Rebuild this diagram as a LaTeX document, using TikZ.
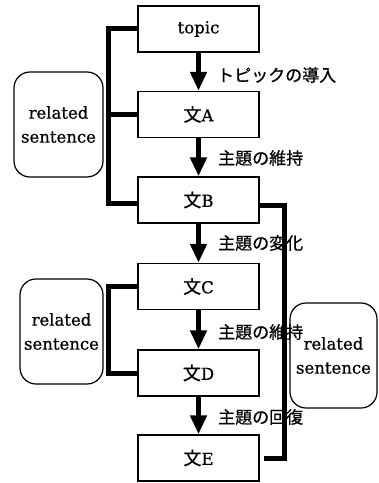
\documentclass[tikz,border=0pt]{standalone}
\usepackage{fontspec}
\setmainfont{DejaVu Serif}[FakeBold=0.7]
\newfontfamily\jp{Noto Sans CJK JP}[FakeBold=0.7]
\newcommand{\bun}{{\jp\fontsize{18bp}{18bp}\selectfont 文}}
\usetikzlibrary{arrows.meta,calc}
\tikzset{
  sbox/.style={draw, line width=1.4bp, minimum width=121bp, minimum height=46bp, inner sep=0pt,
    font=\fontsize{16.5bp}{18bp}\selectfont},
  rbox/.style={draw, line width=1.2bp, rounded corners=16bp, minimum height=105bp, inner sep=0pt,
    align=center, font=\fontsize{16.5bp}{24bp}\selectfont},
  flow/.style={line width=5bp, -{Triangle[width=16bp,length=19bp]}},
  brack/.style={line width=5bp},
  lab/.style={anchor=west, inner sep=0pt, font=\jp\fontsize{17bp}{19bp}\selectfont}
}
\begin{document}
\begin{tikzpicture}[x=1bp,y=-1bp]
\useasboundingbox (0,0) rectangle (378,483);
\node[sbox] (T) at (198.5,29) {topic};
\node[sbox] (A) at (198.5,114.5) {\bun A};
\node[sbox] (B) at (198.5,200) {\bun B};
\node[sbox] (C) at (198.5,286.5) {\bun C};
\node[sbox] (D) at (198.5,373) {\bun D};
\node[sbox] (E) at (198.5,458) {\bun E};

\node[rbox, minimum width=89bp] (R1) at (58.5,124.5) {related\\sentence};
\node[rbox, minimum width=83bp] (R2) at (61.5,331.5) {related\\sentence};
\node[rbox, minimum width=87bp] (R3) at (333.5,355.5) {related\\sentence};

\draw[flow] (T.south) -- (A.north);
\draw[flow] (A.south) -- (B.north);
\draw[flow] (B.south) -- (C.north);
\draw[flow] (C.south) -- (D.north);
\draw[flow] (D.south) -- (E.north);

\node[lab] (L1) at (217,75) {トピックの導入};
\node[lab] (L2) at (218,158) {主題の維持};
\node[lab] (L3) at (218,243) {主題の変化};
\node[lab] (L4) at (218,332) {主題の維持};
\node[lab] (L5) at (218,417) {主題の回復};

\coordinate (lx1) at (108,0);
\draw[brack] (T.west) -- (lx1 |- T.west) -- ($(lx1 |- B.west)+(0,3)$) -- ($(B.west)+(0,3)$);
\draw[brack] (lx1 |- A.west) -- (A.west);
\draw[brack] (C.west) -- (lx1 |- C.west) -- (lx1 |- D.west) -- (D.west);
\coordinate (rx) at (284,0);
\draw[brack] ($(B.east)+(0,5)$) -- ($(rx |- B.east)+(0,5)$) -- (rx |- E.east) -- ($(E.east)+(4,0)$);
\end{tikzpicture}
\end{document}
